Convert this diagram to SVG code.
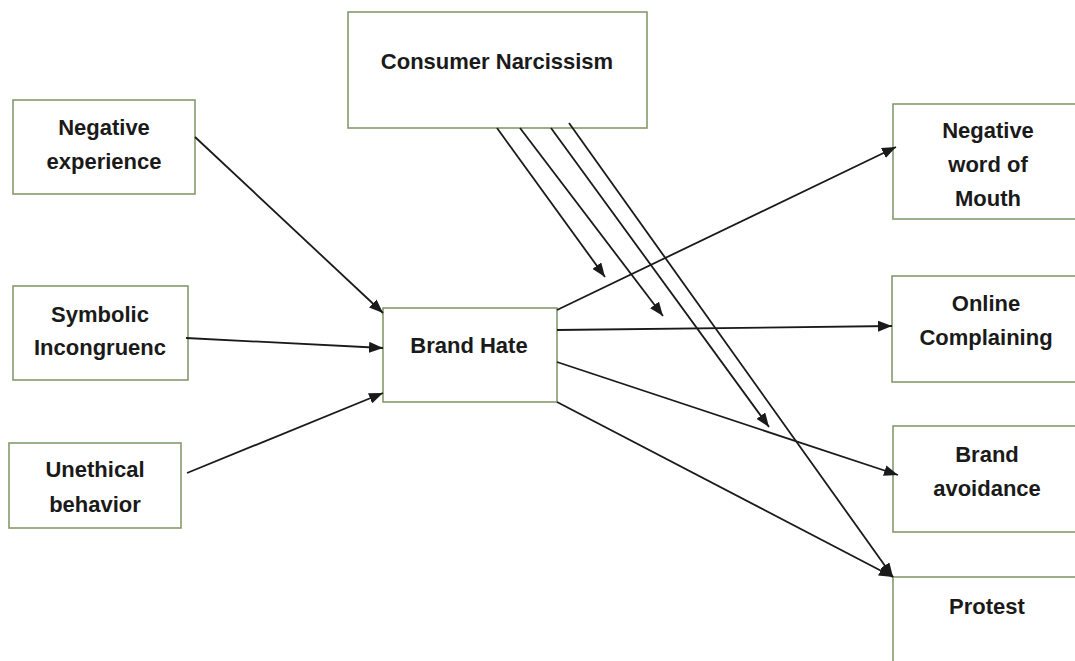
<svg xmlns="http://www.w3.org/2000/svg" width="1075" height="661" viewBox="0 0 1075 661">
<defs>
<style>
.box{fill:#ffffff;stroke:#869a6c;stroke-width:1.6}
.lbl{font-family:"Liberation Sans",Arial,sans-serif;font-weight:bold;font-size:22px;fill:#1a1a1a;text-anchor:middle}
.con{stroke:#1a1a1a;stroke-width:1.8;fill:none;marker-end:url(#arr)}
</style>
<marker id="arr" markerUnits="userSpaceOnUse" markerWidth="15" markerHeight="11" refX="14" refY="5.5" orient="auto">
<path d="M0,0 L14,5.5 L0,11 Z" fill="#1a1a1a"/>
</marker>
</defs>
<rect width="1075" height="661" fill="#ffffff"/>
<g id="n-consumer-narcissism">
<rect class="box" x="348" y="12" width="299" height="116"/>
<text class="lbl" x="497" y="69">Consumer Narcissism</text>
</g>
<g id="n-negative-experience">
<rect class="box" x="13" y="100" width="182" height="94"/>
<text class="lbl" x="104" y="135">Negative</text>
<text class="lbl" x="104" y="169">experience</text>
</g>
<g id="n-symbolic">
<rect class="box" x="13" y="286" width="175" height="94"/>
<text class="lbl" x="100" y="322">Symbolic</text>
<text class="lbl" x="100" y="355">Incongruenc</text>
</g>
<g id="n-unethical">
<rect class="box" x="9" y="443" width="172" height="85"/>
<text class="lbl" x="95" y="477">Unethical</text>
<text class="lbl" x="95" y="512">behavior</text>
</g>
<g id="n-brand-hate">
<rect class="box" x="383" y="308" width="174" height="94"/>
<text class="lbl" x="469" y="353">Brand Hate</text>
</g>
<g id="n-negative-wom">
<rect class="box" x="893" y="104" width="188" height="115"/>
<text class="lbl" x="988" y="138">Negative</text>
<text class="lbl" x="988" y="172">word of</text>
<text class="lbl" x="988" y="206">Mouth</text>
</g>
<g id="n-online-complaining">
<rect class="box" x="892" y="276" width="188" height="106"/>
<text class="lbl" x="986" y="311">Online</text>
<text class="lbl" x="986" y="345">Complaining</text>
</g>
<g id="n-brand-avoidance">
<rect class="box" x="893" y="426" width="188" height="106"/>
<text class="lbl" x="987" y="462">Brand</text>
<text class="lbl" x="987" y="496">avoidance</text>
</g>
<g id="n-protest">
<rect class="box" x="893" y="577" width="188" height="100"/>
<text class="lbl" x="987" y="614">Protest</text>
</g>
<g id="connectors">
<line class="con" x1="195" y1="137" x2="383" y2="313"/>
<line class="con" x1="186" y1="338" x2="383" y2="348"/>
<line class="con" x1="187" y1="473" x2="383" y2="393"/>
<line class="con" x1="557" y1="310" x2="896" y2="147"/>
<line class="con" x1="557" y1="330" x2="892" y2="326"/>
<line class="con" x1="557" y1="362" x2="898" y2="475"/>
<line class="con" x1="557" y1="402" x2="893" y2="577"/>
<line class="con" x1="497" y1="128" x2="605" y2="277"/>
<line class="con" x1="520" y1="128" x2="663" y2="316"/>
<line class="con" x1="551" y1="128" x2="769" y2="427"/>
<line class="con" x1="569" y1="123" x2="893" y2="577"/>
</g>
</svg>
